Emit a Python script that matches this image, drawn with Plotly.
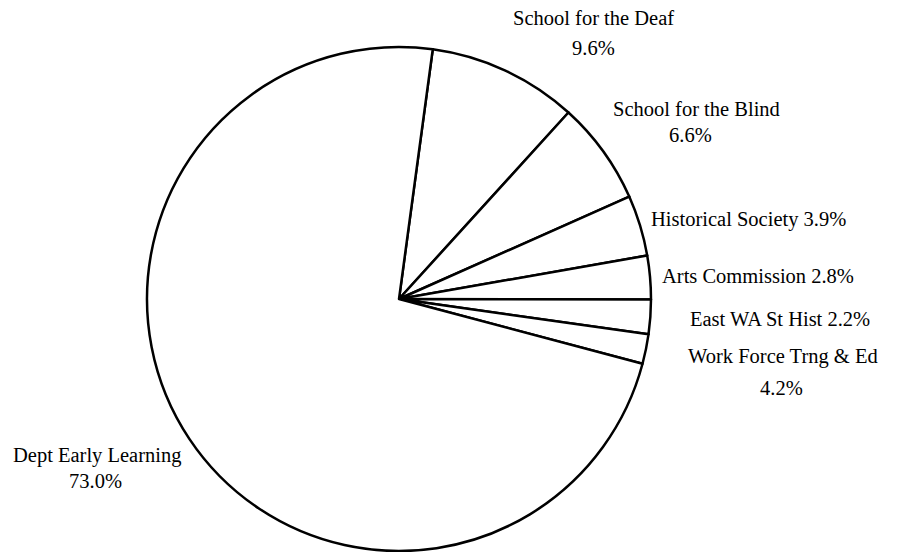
import plotly.graph_objects as go

names = ["School for the Deaf", "School for the Blind", "Historical Society",
         "Arts Commission", "East WA St Hist", "Work Force Trng & Ed",
         "Dept Early Learning"]
# slice shares as drawn
shares = [9.6, 6.6, 3.9, 2.8, 2.2, 1.9, 73.0]
# percentages as printed on the chart
pct_labels = ["9.6%", "6.6%", "3.9%", "2.8%", "2.2%", "4.2%", "73.0%"]

W, H = 898, 552
cx, cy, R = 399, 299, 252

fig = go.Figure(go.Pie(
    labels=names,
    values=shares,
    sort=False,
    direction="clockwise",
    rotation=7.7,
    textinfo="none",
    hoverinfo="label+percent",
    marker=dict(colors=["white"] * len(shares), line=dict(color="black", width=2.5)),
    domain=dict(x=[(cx - R) / W, (cx + R) / W], y=[(H - cy - R) / H, (H - cy + R) / H]),
    showlegend=False,
))

# label text lines with positions (pixel centres)
label_lines = [
    (names[0], 593, 18), (pct_labels[0], 593, 48),
    (names[1], 696, 109), (pct_labels[1], 690, 135),
    (names[2] + " " + pct_labels[2], 748, 219),
    (names[3] + " " + pct_labels[3], 758, 276),
    (names[4] + " " + pct_labels[4], 780, 319),
    (names[5], 783, 356), (pct_labels[5], 781, 388),
    (names[6], 97, 455), (pct_labels[6], 95, 481),
]

annotations = [
    dict(text=t, x=x / W, y=1 - y / H, xref="paper", yref="paper",
         xanchor="center", yanchor="middle", showarrow=False,
         font=dict(family="Liberation Serif", size=20.5, color="black"))
    for t, x, y in label_lines
]

fig.update_layout(
    width=W, height=H,
    margin=dict(l=0, r=0, t=0, b=0),
    paper_bgcolor="white", plot_bgcolor="white",
    annotations=annotations,
)

fig.write_html("out.html")
